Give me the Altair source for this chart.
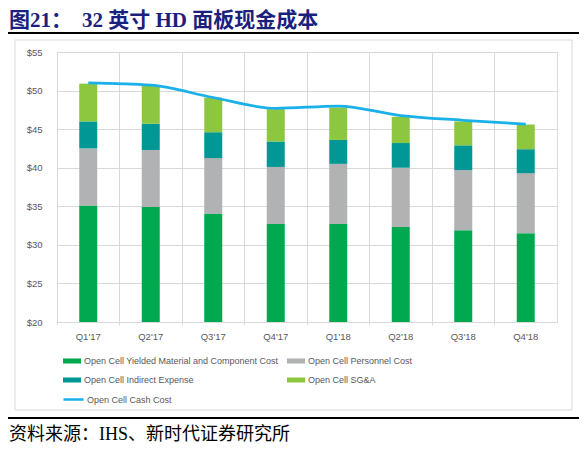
import altair as alt
import pandas as pd

quarters = ["Q1'17", "Q2'17", "Q3'17", "Q4'17", "Q1'18", "Q2'18", "Q3'18", "Q4'18"]
material = [35.1, 34.9, 34.0, 32.7, 32.7, 32.3, 31.9, 31.5]
personnel = [7.4, 7.4, 7.25, 7.4, 7.8, 7.7, 7.8, 7.8]
indirect = [3.5, 3.4, 3.35, 3.3, 3.1, 3.2, 3.2, 3.1]
sga = [4.9, 4.9, 4.5, 4.2, 4.2, 3.4, 3.1, 3.2]
cash = [51.0, 50.7, 49.1, 47.7, 48.0, 46.75, 46.15, 45.65]
y_ticks = [20, 25, 30, 35, 40, 45, 50, 55]

series_names = [
    "Open Cell Yielded Material and Component Cost",
    "Open Cell Personnel Cost",
    "Open Cell Indirect Expense",
    "Open Cell SG&A",
]
series_colors = ["#00a84f", "#b1b2b4", "#009794", "#8dc63f"]
line_name = "Open Cell Cash Cost"
line_color = "#1ab0ea"

rows = []
for i, q in enumerate(quarters):
    for k, vals in enumerate([material, personnel, indirect, sga]):
        rows.append({"quarter": q, "series": series_names[k], "idx": k, "value": vals[i]})
bar_df = pd.DataFrame(rows)
line_df = pd.DataFrame({"quarter": quarters, "cash": cash, "series": [line_name] * len(quarters)})

FONT = "Liberation Sans Narrow, Arial Narrow, Liberation Sans, Arial"
LABEL_COLOR = "#595959"
GRID = "#d9d9d9"

x_axis = alt.Axis(
    title=None,
    bandPosition=0,
    labelAngle=0,
    grid=True,
    gridColor=GRID,
    ticks=True,
    tickSize=3,
    tickColor=GRID,
    domainColor=GRID,
    labelPadding=6,
    labelFont=FONT,
    labelFontSize=9.5,
    labelColor=LABEL_COLOR,
)

y_scale = alt.Scale(domain=[20, 55], nice=False, zero=False)
y_axis = alt.Axis(
    title=None,
    values=y_ticks,
    tickCount=8,
    labelOverlap=False,
    labelExpr="'$' + datum.value",
    grid=True,
    gridColor=GRID,
    domain=False,
    ticks=False,
    labelPadding=15,
    labelFont=FONT,
    labelFontSize=9.5,
    labelColor=LABEL_COLOR,
)

bars = alt.Chart(bar_df).mark_bar(size=18, clip=True).encode(
    x=alt.X("quarter:N", sort=quarters, scale=alt.Scale(paddingInner=0, paddingOuter=0), axis=x_axis),
    y=alt.Y("value:Q", stack="zero", scale=y_scale, axis=y_axis),
    fill=alt.Fill(
        "series:N",
        scale=alt.Scale(domain=series_names, range=series_colors),
        legend=alt.Legend(
            title=None,
            orient="none",
            direction="horizontal",
            legendX=6,
            legendY=300,
            columns=2,
            columnPadding=8,
            rowPadding=5,
            symbolType="M-1,-0.28H1V0.28H-1Z",
            symbolSize=324,
            symbolStrokeWidth=0,
            labelOffset=3,
            labelLimit=0,
            labelFont=FONT,
            labelFontSize=9,
            labelColor=LABEL_COLOR,
        ),
    ),
    order=alt.Order("idx:Q"),
)

line = alt.Chart(line_df).mark_line(interpolate="monotone", strokeWidth=2.75).encode(
    x=alt.X("quarter:N", sort=quarters, axis=x_axis),
    y=alt.Y("cash:Q", scale=y_scale, axis=y_axis),
    stroke=alt.Stroke(
        "series:N",
        scale=alt.Scale(domain=[line_name], range=[line_color]),
        legend=alt.Legend(
            title=None,
            orient="none",
            legendX=5,
            legendY=336,
            symbolType="stroke",
            symbolSize=400,
            symbolStrokeWidth=2.5,
            labelOffset=2,
            labelLimit=0,
            labelFont=FONT,
            labelFontSize=9,
            labelColor=LABEL_COLOR,
        ),
    ),
)

one = alt.Data(values=[{}])

panel = alt.Chart(one).mark_rect(filled=False, stroke=GRID, strokeWidth=1).encode(
    x=alt.value(-42), x2=alt.value(515), y=alt.value(-12), y2=alt.value(358)
)

top_rule = alt.Chart(one).mark_rule(color="black", strokeWidth=2.2).encode(
    x=alt.value(-49), x2=alt.value(523), y=alt.value(-19)
)
bottom_rule = alt.Chart(one).mark_rule(color="black", strokeWidth=2.2).encode(
    x=alt.value(-49), x2=alt.value(523), y=alt.value(366)
)

TITLE_FONT = "Liberation Serif, Noto Sans CJK SC"
title1 = alt.Chart(one).mark_text(
    text="图21：", font=TITLE_FONT, fontSize=21, fontWeight="bold", color="#1b1f7d",
    align="left", baseline="alphabetic",
).encode(x=alt.value(-48), y=alt.value(-25))
title2 = alt.Chart(one).mark_text(
    text="32 英寸 HD 面板现金成本", font=TITLE_FONT, fontSize=21, fontWeight="bold", color="#1b1f7d",
    align="left", baseline="alphabetic",
).encode(x=alt.value(25), y=alt.value(-25))

source = alt.Chart(one).mark_text(
    text="资料来源：IHS、新时代证券研究所", font=TITLE_FONT, fontSize=18, color="black",
    align="left", baseline="middle",
).encode(x=alt.value(-48), y=alt.value(383))

chart = alt.layer(panel, bars, line, top_rule, bottom_rule, title1, title2, source).properties(
    width=500,
    height=270,
    autosize=alt.AutoSizeParams(type="none"),
    padding={"left": 49, "top": 44, "right": 22, "bottom": 122},
).configure_view(fill="#ececec", stroke=GRID).configure(background="white")

chart.save("out.html", embed_options={"renderer": "svg", "actions": False})
